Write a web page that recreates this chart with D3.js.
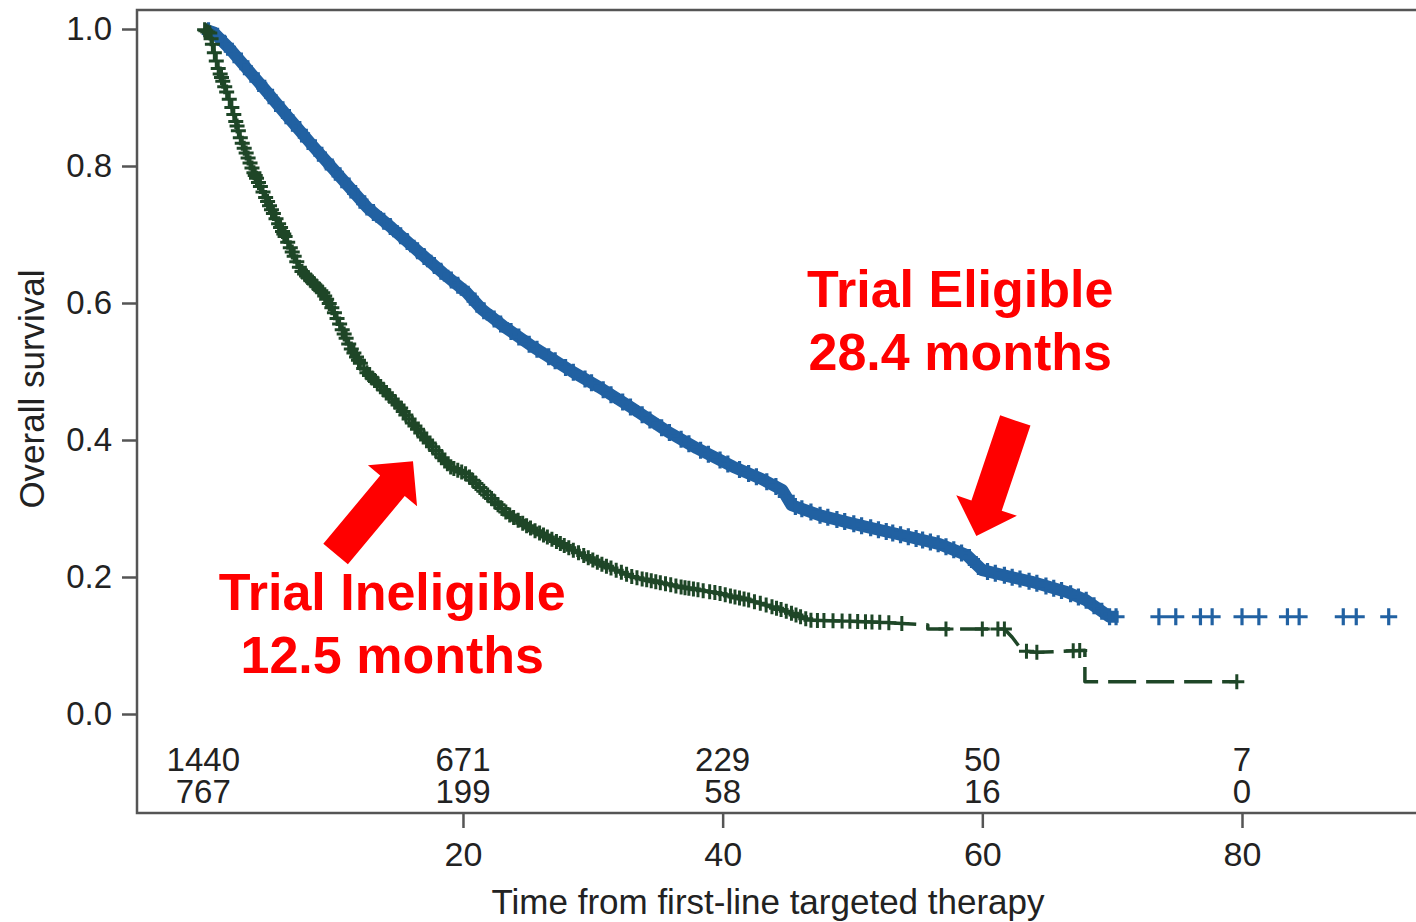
<!DOCTYPE html>
<html>
<head>
<meta charset="utf-8">
<script src="https://cdn.jsdelivr.net/npm/d3@7"></script>
<style>
  html, body { margin: 0; padding: 0; background: #ffffff; overflow: hidden; }
  svg { display: block; }
</style>
</head>
<body>
<svg id="chart" width="1416" height="922"></svg>
<script>
// Kaplan-Meier overall survival, trial-eligible vs trial-ineligible patients
// Survival estimates [months, survival]
const eligibleCurve = [
  [0, 1.0], [0.8, 0.995], [2, 0.972], [3, 0.95], [4.6, 0.915], [6.5, 0.872],
  [8.5, 0.828], [10.5, 0.785], [12.6, 0.740], [14.5, 0.710], [16.7, 0.673],
  [18.5, 0.643], [20.3, 0.615], [21.5, 0.590], [23.2, 0.565], [25.4, 0.536],
  [28.4, 0.500], [30.5, 0.477], [33, 0.447], [35.7, 0.413], [38, 0.388],
  [40.8, 0.361], [43, 0.343], [44.6, 0.327], [45.3, 0.305], [47.5, 0.290],
  [50, 0.278], [53.6, 0.262], [56.7, 0.248], [58.8, 0.232], [60, 0.210],
  [63.8, 0.193], [66.5, 0.178], [68, 0.166], [69.8, 0.142], [70.5, 0.142]
];

const ineligibleCurve = [
  [0, 1.0], [0.5, 0.994], [1.1, 0.945], [2.1, 0.892], [2.9, 0.838], [3.9, 0.790],
  [5.15, 0.740], [6.3, 0.697], [7.5, 0.648], [9.2, 0.615], [10.0, 0.590],
  [11.3, 0.536], [12.5, 0.500], [13.4, 0.483], [15.15, 0.448], [15.7, 0.434],
  [17.2, 0.400], [19.0, 0.361], [20.3, 0.350], [21.5, 0.327], [23.4, 0.293],
  [25.4, 0.269], [28.0, 0.244], [30.5, 0.220], [33.1, 0.200], [36.9, 0.185],
  [39.5, 0.177], [42.1, 0.166], [44.6, 0.152], [46.7, 0.137], [52.1, 0.134],
  [55.8, 0.130], [55.8, 0.124], [61.7, 0.124], [62.3, 0.112], [63.1, 0.092],
  [64.2, 0.090], [67.9, 0.093], [67.9, 0.047], [79.6, 0.047]
];

// Censoring times (months)
const eligibleCensored = [
  0.4, 1.1, 1.7, 2.4, 2.9, 3.7, 4.2, 4.8, 5.6, 6.1, 6.9, 7.4, 8.1, 8.6, 9.4, 10.0,
  10.7, 11.2, 11.9, 12.6, 13.1, 13.9, 14.4, 15.2, 15.7, 16.5, 17.0, 17.8, 18.3,
  19.1, 19.6, 20.4, 21.1, 21.6, 22.4, 22.9, 23.7, 24.3, 25.1, 25.7, 26.6, 27.1,
  27.9, 28.5, 29.4, 29.9, 30.8, 31.4, 32.3, 32.9, 33.8, 34.4, 35.3, 35.9, 36.8,
  37.4, 38.3, 38.9, 39.8, 40.4, 41.3, 42.0, 42.6, 43.4, 44.1, 44.9, 45.6, 46.1,
  46.8, 47.5, 48.1, 48.8, 49.4, 50.1, 50.7, 51.4, 52.0, 52.6, 53.1, 53.7, 54.3,
  54.9, 55.4, 56.0, 56.6, 57.2, 57.8, 58.4, 59.0, 59.7, 60.4, 61.0, 61.7, 62.3,
  62.9, 63.6, 64.2, 64.9, 65.5, 66.1, 66.8, 67.4, 68.0, 68.6, 69.2, 69.8, 70.3,
  73.6, 74.9, 76.8, 77.7, 80.0, 81.3, 83.5, 84.4, 87.8, 88.8, 91.3
];

const ineligibleCensored = [
  0.1, 0.2, 0.35, 0.5, 0.6, 0.7, 0.85, 1.0, 1.15, 1.3, 1.4, 1.5, 1.65, 1.8, 2.0,
  2.2, 2.35, 2.5, 2.6, 2.7, 2.85, 3.0, 3.15, 3.3, 3.45, 3.6, 3.75, 3.9, 4.0, 4.1,
  4.25, 4.4, 4.6, 4.8, 4.95, 5.1, 5.25, 5.4, 5.6, 5.8, 5.95, 6.1, 6.2, 6.3, 6.5,
  6.7, 6.85, 7.0, 7.2, 7.4, 7.6, 7.8, 7.95, 8.1, 8.3, 8.5, 8.7, 8.9, 9.05, 9.2,
  9.35, 9.5, 9.7, 9.9, 10.1, 10.3, 10.5, 10.7, 10.85, 11.0, 11.2, 11.4, 11.6,
  11.8, 11.95, 12.1, 12.35, 12.6, 12.8, 13.0, 13.2, 13.4, 13.65, 13.9, 14.1,
  14.3, 14.55, 14.8, 15.0, 15.2, 15.4, 15.6, 15.85, 16.1, 16.3, 16.5, 16.75,
  17.0, 17.2, 17.4, 17.65, 17.9, 18.15, 18.4, 18.6, 18.8, 19.05, 19.3, 19.6,
  19.9, 20.2, 20.5, 20.75, 21.0, 21.3, 21.6, 21.9, 22.2, 22.45, 22.7, 23.0,
  23.3, 23.6, 23.9, 24.25, 24.6, 24.9, 25.2, 25.55, 25.9, 26.2, 26.5, 26.85,
  27.2, 27.5, 27.8, 28.15, 28.5, 28.9, 29.3, 29.65, 30.0, 30.35, 30.7, 31.05,
  31.4, 31.8, 32.2, 32.6, 33.0, 33.4, 33.8, 34.15, 34.5, 34.85, 35.2, 35.6,
  36.0, 36.4, 36.8, 37.1, 37.4, 37.75, 38.1, 38.5, 39.0, 39.4, 39.8, 40.2,
  40.6, 40.95, 41.3, 41.65, 42.0, 42.45, 42.9, 43.35, 43.8, 44.15, 44.5, 44.9,
  45.3, 45.65, 46.0, 46.4, 46.8, 47.3, 47.8, 48.5, 49.2, 49.8, 50.4, 51.0, 51.5,
  52.1, 52.8, 53.8, 57.2, 60.0, 61.2, 61.7, 63.4, 64.2, 67.0, 67.5, 79.6
];

// Axis ticks
const yTickValues = [0, 0.2, 0.4, 0.6, 0.8, 1.0];
const xTickValues = [20, 40, 60, 80];

// Numbers at risk
const atRiskTimes = [0, 20, 40, 60, 80];
const atRiskEligible = [1440, 671, 229, 50, 7];
const atRiskIneligible = [767, 199, 58, 16, 0];

// Annotation text
const eligibleLabel = ["Trial Eligible", "28.4 months"];
const ineligibleLabel = ["Trial Ineligible", "12.5 months"];

// ---- layout ----
const frame = { left: 137, top: 10, bottom: 813, right: 1460 };
const fontFamily = "'Liberation Sans', Arial, Helvetica, sans-serif";
const colors = { eligible: "#2161a2", ineligible: "#1e4627", frame: "#555555", text: "#222222", note: "#ff0000" };

const svg = d3.select("#chart");

const x = d3.scaleLinear().domain([0, 80]).range([203.3, 1242]);
const y = d3.scaleLinear().domain([0, 1]).range([714, 29]);

// plot frame (right side runs past the canvas edge)
svg.append("rect")
  .attr("x", frame.left).attr("y", frame.top)
  .attr("width", frame.right - frame.left).attr("height", frame.bottom - frame.top)
  .attr("fill", "none").attr("stroke", colors.frame).attr("stroke-width", 2.5);

// y axis
const yAxis = svg.append("g")
  .attr("transform", `translate(${frame.left},0)`)
  .call(d3.axisLeft(y).tickValues(yTickValues).tickFormat(d3.format(".1f")).tickSize(15).tickPadding(10));
yAxis.select(".domain").remove();
yAxis.attr("font-size", 33).attr("font-family", fontFamily);
yAxis.selectAll("line").attr("stroke", colors.frame).attr("stroke-width", 2.5);
yAxis.selectAll("text").attr("fill", colors.text);

// x axis
const xAxis = svg.append("g")
  .attr("transform", `translate(0,${frame.bottom})`)
  .call(d3.axisBottom(x).tickValues(xTickValues).tickFormat(d3.format("d")).tickSize(15).tickPadding(14));
xAxis.select(".domain").remove();
xAxis.attr("font-size", 34).attr("font-family", fontFamily);
xAxis.selectAll("line").attr("stroke", colors.frame).attr("stroke-width", 2.5);
xAxis.selectAll("text").attr("fill", colors.text);

// axis titles
svg.append("text")
  .attr("x", 768).attr("y", 914)
  .attr("text-anchor", "middle")
  .attr("font-family", fontFamily).attr("font-size", 35).attr("fill", colors.text)
  .text("Time from first-line targeted therapy");

svg.append("text")
  .attr("transform", "translate(44,389) rotate(-90)")
  .attr("text-anchor", "middle")
  .attr("font-family", fontFamily).attr("font-size", 35).attr("fill", colors.text)
  .text("Overall survival");

// numbers at risk
const riskRows = [
  { values: atRiskEligible, dy: 57 },
  { values: atRiskIneligible, dy: 89 }
];
riskRows.forEach(row => {
  svg.append("g").selectAll("text")
    .data(atRiskTimes.map((t, i) => ({ t, v: row.values[i] })))
    .join("text")
    .attr("x", d => x(d.t))
    .attr("y", y(0) + row.dy)
    .attr("text-anchor", "middle")
    .attr("font-family", fontFamily).attr("font-size", 33).attr("fill", colors.text)
    .text(d => d.v);
});

// survival curves
const line = d3.line().x(d => x(d[0])).y(d => y(d[1]));

function survivalAt(curve, t) {
  if (t <= curve[0][0]) return curve[0][1];
  for (let i = 1; i < curve.length; i++) {
    const [t0, s0] = curve[i - 1];
    const [t1, s1] = curve[i];
    if (t <= t1) {
      if (t1 === t0) return s1;
      return s0 + (s1 - s0) * (t - t0) / (t1 - t0);
    }
  }
  return curve[curve.length - 1][1];
}

function crossPath(cx, cy, a) {
  return `M${cx - a},${cy}h${2 * a}M${cx},${cy - a}v${2 * a}`;
}

function drawGroup(curve, censored, color, lineWidth, dash, markSize, markWidth) {
  const g = svg.append("g");
  const p = g.append("path")
    .datum(curve)
    .attr("d", line)
    .attr("fill", "none")
    .attr("stroke", color)
    .attr("stroke-width", lineWidth)
    .attr("stroke-linejoin", "round");
  if (dash) p.attr("stroke-dasharray", dash);
  g.append("path")
    .attr("d", censored.map(t => crossPath(x(t), y(survivalAt(curve, t)), markSize)).join(""))
    .attr("fill", "none")
    .attr("stroke", color)
    .attr("stroke-width", markWidth);
}

drawGroup(eligibleCurve, eligibleCensored, colors.eligible, 12, null, 8.5, 3.2);
drawGroup(ineligibleCurve, ineligibleCensored, colors.ineligible, 3.5, "28 10", 7.5, 3);

// annotation arrows, tail -> tip in data units
const arrows = [
  { from: [62.54, 0.4285], to: [59.54, 0.260] },
  { from: [10.19, 0.2336], to: [16.15, 0.369] }
];
const shaftHalf = 16, headHalf = 32, headLen = 32;
arrows.forEach(a => {
  const x0 = x(a.from[0]), y0 = y(a.from[1]);
  const x1 = x(a.to[0]), y1 = y(a.to[1]);
  const len = Math.hypot(x1 - x0, y1 - y0);
  const ux = (x1 - x0) / len, uy = (y1 - y0) / len;
  const px = -uy, py = ux;
  const bx = x1 - ux * headLen, by = y1 - uy * headLen;
  const pts = [
    [x0 + px * shaftHalf, y0 + py * shaftHalf],
    [bx + px * shaftHalf, by + py * shaftHalf],
    [bx + px * headHalf, by + py * headHalf],
    [x1, y1],
    [bx - px * headHalf, by - py * headHalf],
    [bx - px * shaftHalf, by - py * shaftHalf],
    [x0 - px * shaftHalf, y0 - py * shaftHalf]
  ];
  svg.append("polygon")
    .attr("points", pts.map(p => p.join(",")).join(" "))
    .attr("fill", colors.note);
});

// annotation labels
const notes = [
  { lines: eligibleLabel, t: 58.3, s: [0.594, 0.502] },
  { lines: ineligibleLabel, t: 14.55, s: [0.152, 0.060] }
];
notes.forEach(n => {
  n.lines.forEach((txt, i) => {
    svg.append("text")
      .attr("x", x(n.t)).attr("y", y(n.s[i]))
      .attr("text-anchor", "middle")
      .attr("font-family", fontFamily).attr("font-size", 52).attr("font-weight", "bold")
      .attr("fill", colors.note)
      .text(txt);
  });
});
</script>
</body>
</html>
